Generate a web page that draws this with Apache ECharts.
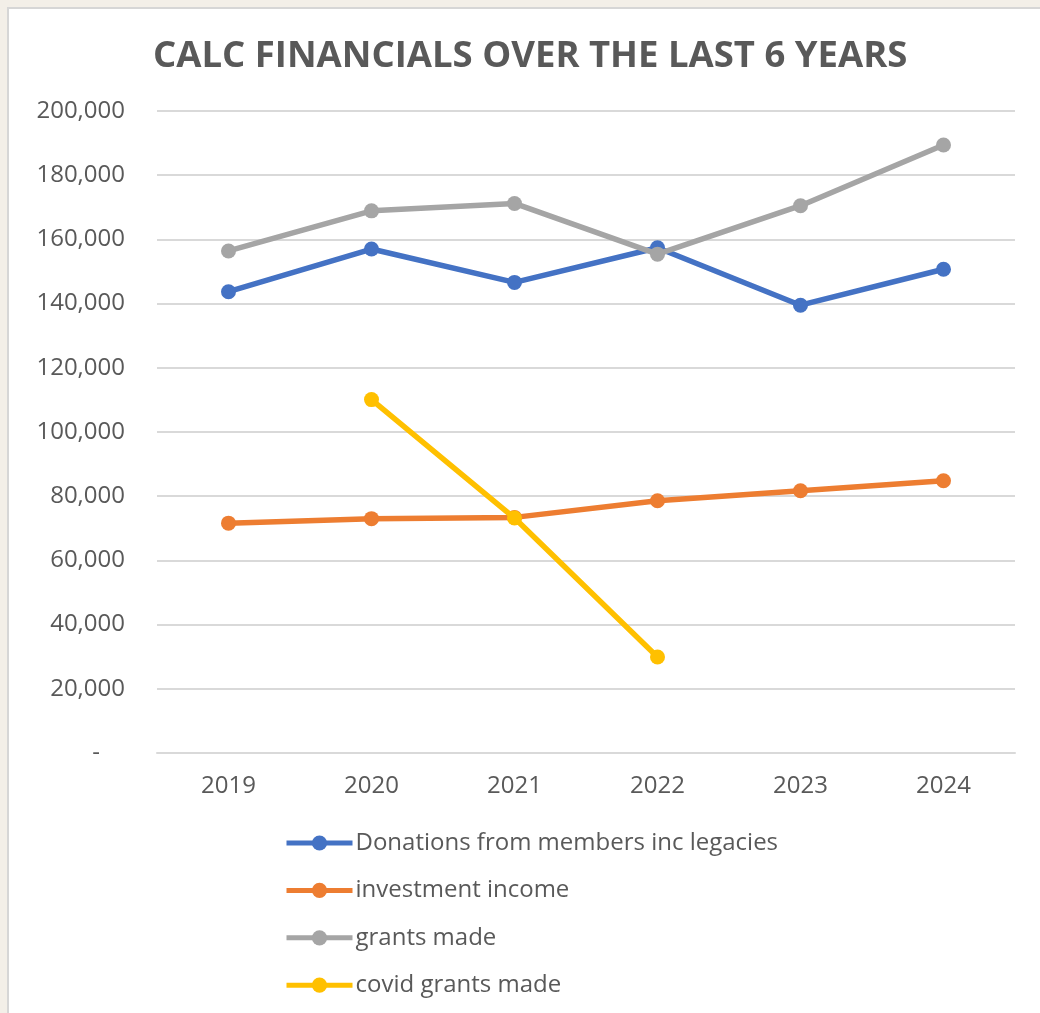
<!DOCTYPE html>
<html>
<head>
<meta charset="utf-8">
<script src="https://cdn.jsdelivr.net/npm/echarts@6/dist/echarts.min.js"></script>
<style>
  html, body { margin: 0; padding: 0; background: #f3efe8; width: 1040px; height: 1013px; overflow: hidden; }
  #frame { position: absolute; left: 7px; top: 7px; width: 1040px; height: 1013px; background: #ffffff; border: 2px solid #d6d6d6; box-sizing: border-box; }
  #chart { position: absolute; left: 0; top: 0; width: 1040px; height: 1013px; }
</style>
</head>
<body>
<div id="frame"></div>
<div id="chart"></div>
<script>
const titleText = 'CALC FINANCIALS OVER THE LAST 6 YEARS';
const years = ['2019', '2020', '2021', '2022', '2023', '2024'];
const seriesNames = ['Donations from members inc legacies', 'investment income', 'grants made', 'covid grants made'];
const donations = [143700, 157000, 146600, 157400, 139500, 150700];
const investment = [71600, 73000, 73400, 78600, 81700, 84800];
const grants = [156400, 168900, 171200, 155400, 170500, 189400];
const covidGrants = [null, 110100, 73200, 29900, null, null];
const colors = ['#4472C4', '#ED7D31', '#A5A5A5', '#FFC000'];

const chart = echarts.init(document.getElementById('chart'), null, { renderer: 'canvas' });
const values = [donations, investment, grants, covidGrants];
const textColor = '#595959';
const fontFamily = '"Open Sans", "Liberation Sans", sans-serif';

chart.setOption({
  backgroundColor: 'transparent',
  animation: false,
  color: colors,
  title: {
    text: titleText,
    left: 148,
    top: 33,
    textStyle: { fontFamily, fontSize: 36.5, fontWeight: 'bold', color: textColor }
  },
  grid: { left: 157, right: 25, top: 111, bottom: 260, containLabel: false },
  xAxis: {
    type: 'category',
    data: years,
    boundaryGap: true,
    axisLine: { lineStyle: { color: '#d9d9d9', width: 2 } },
    axisTick: { show: false },
    axisLabel: { color: textColor, fontFamily, fontSize: 24, margin: 21 }
  },
  yAxis: {
    type: 'value',
    min: 0,
    max: 200000,
    interval: 20000,
    axisLine: { show: false },
    axisTick: { show: false },
    splitLine: { lineStyle: { color: '#d9d9d9', width: 2 } },
    axisLabel: {
      color: textColor, fontFamily, fontSize: 24, margin: 32,
      formatter: v => v === 0 ? '-    ' : v.toLocaleString('en-US')
    }
  },
  legend: {
    orient: 'vertical',
    left: 284,
    top: 829,
    padding: 0,
    itemWidth: 66,
    itemHeight: 19,
    itemGap: 19.4,
    data: seriesNames,
    lineStyle: { width: 5 },
    textStyle: { color: textColor, fontFamily, fontSize: 24, lineHeight: 28, padding: [0, 0, 0, -2] }
  },
  series: seriesNames.map((name, i) => ({
    name,
    type: 'line',
    data: values[i],
    symbol: 'circle',
    symbolSize: 15,
    connectNulls: false,
    lineStyle: { width: 5.5, color: colors[i] },
    itemStyle: { color: colors[i] },
    z: 2 + i
  }))
});
</script>
</body>
</html>
